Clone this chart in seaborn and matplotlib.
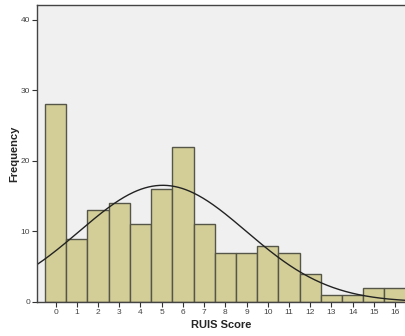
import numpy as np
import pandas as pd
import matplotlib
matplotlib.use("Agg")
import matplotlib.pyplot as plt
import seaborn as sns

scores = [0, 1, 2, 3, 4, 5, 6, 7, 8, 9, 10, 11, 12, 13, 14, 15, 16]
counts = [28, 9, 13, 14, 11, 16, 22, 11, 7, 7, 8, 7, 4, 1, 1, 2, 2]
y_ticks = [0, 10, 20, 30, 40]

sns.set_style("white")
plt.rcParams['font.family'] = ['Liberation Sans', 'DejaVu Sans']

df = pd.DataFrame({"score": scores, "count": counts})

fig = plt.figure(figsize=(4.06, 3.36), dpi=100)
ax = fig.add_axes([37/406, 1 - 302/336, 1 - 37/406, (302 - 5)/336])
ax.set_facecolor("#F0F0F0")

sns.histplot(data=df, x="score", weights="count", discrete=True, ax=ax,
             color="#D3CE97", edgecolor="#555548", linewidth=1.0, alpha=1.0)

# fitted normal curve (from the data)
n = float(np.sum(counts))
mean = np.sum(np.array(scores) * np.array(counts)) / n
sd = np.sqrt(np.sum(np.array(counts) * (np.array(scores) - mean) ** 2) / (n - 1))
xs = np.linspace(-0.88, 16.6, 300)
ys = n / (sd * np.sqrt(2 * np.pi)) * np.exp(-(xs - mean) ** 2 / (2 * sd ** 2))
sns.lineplot(x=xs, y=ys, ax=ax, color="#222222", linewidth=1.0)

ax.set_xlim(-0.88, 16.52)
ax.set_ylim(0, 42.1)
ax.set_xticks(scores)
ax.set_yticks(y_ticks)
ax.tick_params(axis="both", which="both", direction="out", length=3.5, width=0.8,
               color="#333333", labelsize=6, labelcolor="#444444", pad=1.5,
               bottom=True, left=True)
for s in ["left", "top", "bottom"]:
    ax.spines[s].set_color("#444444")
    ax.spines[s].set_linewidth(1.0)
ax.spines["right"].set_visible(False)

ax.set_xlabel("RUIS Score", fontsize=8, fontweight="bold", labelpad=3)
ax.set_ylabel("Frequency", fontsize=8, fontweight="bold")
ax.yaxis.set_label_coords(-0.048, 0.5)

fig.savefig("out.png", dpi=100)
